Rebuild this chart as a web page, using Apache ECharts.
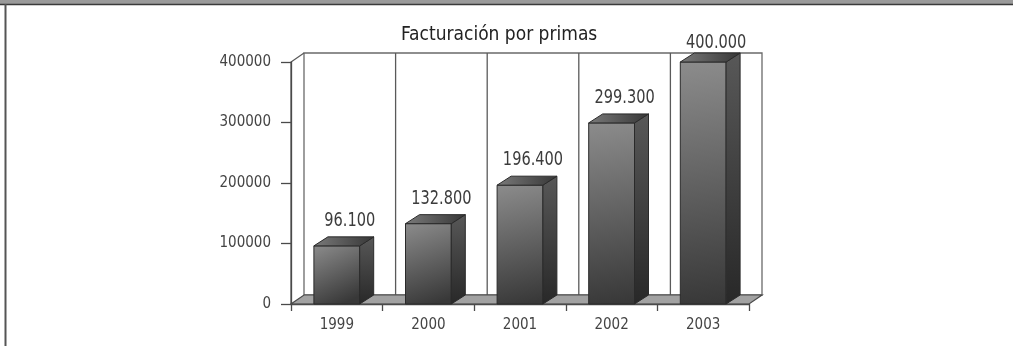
<!DOCTYPE html>
<html>
<head>
<meta charset="utf-8">
<script src="https://cdn.jsdelivr.net/npm/echarts@6/dist/echarts.min.js"></script>
<style>
  html, body { margin: 0; padding: 0; background: #ffffff; }
  #chart { width: 1013px; height: 346px; }
</style>
</head>
<body>
<div id="chart"></div>
<script>
// Premium billing per year
const categories = ['1999', '2000', '2001', '2002', '2003'];
const values = [96100, 132800, 196400, 299300, 400000];
const valueLabels = ['96.100', '132.800', '196.400', '299.300', '400.000'];
const yMin = 0;
const yMax = 400000;
const yStep = 100000;

const FONT = '"DejaVu Sans Condensed", "Liberation Sans Narrow", sans-serif';
const WALL_DX = 13, WALL_DY = -9;   // depth of the box walls
const BAR_DX = 14, BAR_DY = -9;     // depth of each bar

const chart = echarts.init(document.getElementById('chart'), null, { renderer: 'canvas' });

// Back wall, side wall and floor of the 3D box
function renderBox(params, api) {
  const cs = params.coordSys;
  const L = cs.x, R = cs.x + cs.width, T = cs.y, B = cs.y + cs.height;
  const band = api.size([1, 0])[0];
  const line = { stroke: '#5a5a5a', lineWidth: 1.3, fill: null };
  const children = [];
  // back wall
  children.push({ type: 'rect', shape: { x: L + WALL_DX, y: T + WALL_DY, width: cs.width, height: cs.height },
    style: { fill: '#ffffff', stroke: '#6a6a6a', lineWidth: 1.3 } });
  // category dividers on the back wall
  for (let i = 1; i < categories.length; i++) {
    const x = L + WALL_DX + band * i;
    children.push({ type: 'line', shape: { x1: x, y1: T + WALL_DY, x2: x, y2: B + WALL_DY }, style: line });
  }
  // left side wall outline
  children.push({ type: 'polyline', shape: { points: [[L, B], [L, T], [L + WALL_DX, T + WALL_DY]] }, style: line });
  // floor
  children.push({ type: 'polygon', shape: { points: [[L, B], [R, B], [R + WALL_DX, B + WALL_DY], [L + WALL_DX, B + WALL_DY]] },
    style: { fill: '#a2a2a2', stroke: '#4a4a4a', lineWidth: 1.2 } });
  return { type: 'group', children: children };
}

// A shaded cuboid per year with its value above it
function renderBar(params, api) {
  const idx = api.value(0);
  const val = api.value(1);
  const top = api.coord([idx, val]);
  const base = api.coord([idx, 0]);
  const w = api.size([1, 0])[0] * 0.5;
  const xl = top[0] - w / 2, xr = top[0] + w / 2;
  const yt = top[1], yb = base[1];
  const edge = '#2a2a2a';
  const labelBottom = Math.max(yt + BAR_DY - 6, 53);
  return {
    type: 'group',
    children: [
      { type: 'rect', shape: { x: xl, y: yt, width: w, height: yb - yt },
        style: { stroke: edge, lineWidth: 1,
          fill: new echarts.graphic.LinearGradient(0, 0, 0.6, 1, [
            { offset: 0, color: '#8c8c8c' }, { offset: 0.5, color: '#626262' }, { offset: 1, color: '#383838' }]) } },
      { type: 'polygon', shape: { points: [[xr, yt], [xr + BAR_DX, yt + BAR_DY], [xr + BAR_DX, yb + BAR_DY], [xr, yb]] },
        style: { stroke: edge, lineWidth: 1,
          fill: new echarts.graphic.LinearGradient(0, 0, 0, 1, [
            { offset: 0, color: '#585858' }, { offset: 1, color: '#282828' }]) } },
      { type: 'polygon', shape: { points: [[xl, yt], [xl + BAR_DX, yt + BAR_DY], [xr + BAR_DX, yt + BAR_DY], [xr, yt]] },
        style: { stroke: edge, lineWidth: 1,
          fill: new echarts.graphic.LinearGradient(0, 0, 1, 0, [
            { offset: 0, color: '#7a7a7a' }, { offset: 1, color: '#363636' }]) } },
      { type: 'text', x: top[0] + 13, y: labelBottom, scaleX: 0.81,
        style: { text: valueLabels[idx], fill: '#3c3c3c', font: '20px ' + FONT, align: 'center', verticalAlign: 'bottom' } }
    ]
  };
}

chart.setOption({
  animation: false,
  backgroundColor: '#ffffff',
  title: {
    text: 'Facturación por primas',
    left: 396, top: 21,
    textStyle: { fontFamily: FONT, fontSize: 19, fontWeight: 'normal', color: '#222222' }
  },
  grid: { left: 291, right: 264, top: 62, bottom: 42 },
  xAxis: {
    type: 'category',
    data: categories,
    boundaryGap: true,
    axisLine: { show: true, lineStyle: { color: '#4a4a4a', width: 1.3 } },
    axisTick: { show: true, length: 7, alignWithLabel: false, lineStyle: { color: '#4a4a4a', width: 1.3 } },
    axisLabel: { margin: 14, color: '#444444', fontFamily: FONT, fontSize: 15 },
    splitLine: { show: false },
    z: 1
  },
  yAxis: {
    type: 'value',
    min: yMin, max: yMax, interval: yStep,
    axisLine: { show: true, lineStyle: { color: '#4a4a4a', width: 1.3 } },
    axisTick: { show: true, length: 10, lineStyle: { color: '#4a4a4a', width: 1.3 } },
    axisLabel: { margin: 20, color: '#444444', fontFamily: FONT, fontSize: 15,
      formatter: function (v) { return String(v); } },
    splitLine: { show: false }
  },
  series: [
    { type: 'custom', name: 'box', renderItem: renderBox, data: [[0, 0]], z: 0, silent: true, clip: false },
    { type: 'custom', name: 'Facturación', renderItem: renderBar,
      data: values.map((v, i) => [i, v]), z: 3, clip: false }
  ],
  graphic: [
    { type: 'rect', shape: { x: 0, y: 0, width: 1013, height: 4 }, style: { fill: '#9a9a9a' }, z: 10 },
    { type: 'line', shape: { x1: 0, y1: 4.5, x2: 1013, y2: 4.5 }, style: { stroke: '#3a3a3a', lineWidth: 1.5 }, z: 10 },
    { type: 'line', shape: { x1: 5.5, y1: 4, x2: 5.5, y2: 346 }, style: { stroke: '#555555', lineWidth: 2 }, z: 10 }
  ]
});
</script>
</body>
</html>
